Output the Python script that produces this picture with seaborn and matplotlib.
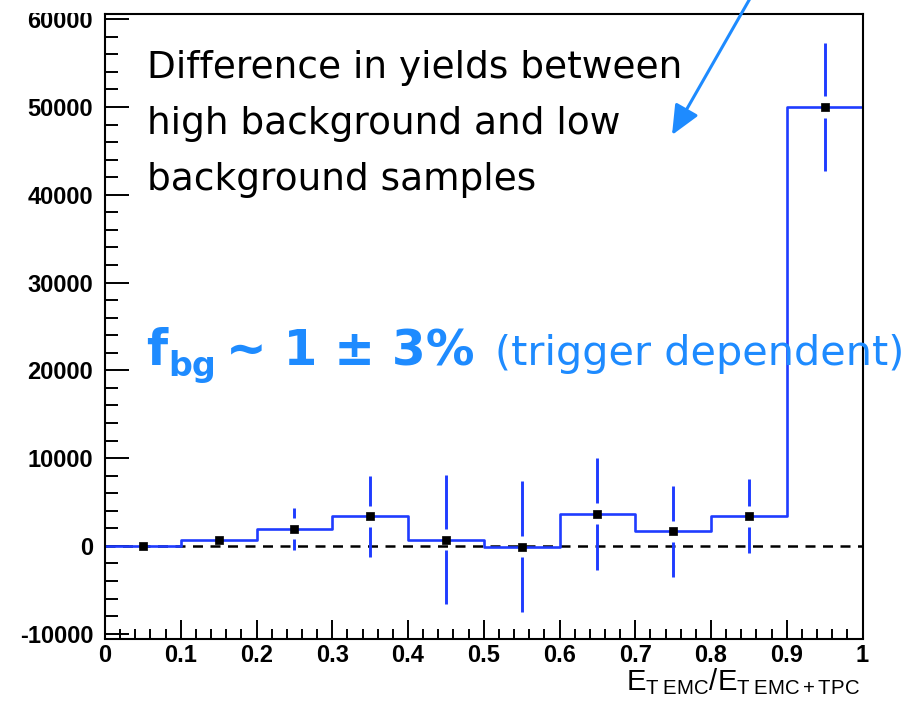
import numpy as np
import matplotlib
matplotlib.use("Agg")
import matplotlib.pyplot as plt
from matplotlib.patches import Rectangle
import seaborn as sns

# Yield difference (high-bg minus low-bg) per E_T fraction bin
bin_edges = [0.0, 0.1, 0.2, 0.3, 0.4, 0.5, 0.6, 0.7, 0.8, 0.9, 1.0]
bin_centers = [0.05, 0.15, 0.25, 0.35, 0.45, 0.55, 0.65, 0.75, 0.85, 0.95]
yield_diff = [0, 700, 1950, 3350, 700, -100, 3650, 1650, 3400, 50000]
yield_err = [600, 600, 2400, 4600, 7350, 7450, 6400, 5200, 4200, 7300]

x_ticks = [0.0, 0.1, 0.2, 0.3, 0.4, 0.5, 0.6, 0.7, 0.8, 0.9, 1.0]
x_tick_labels = ["0", "0.1", "0.2", "0.3", "0.4", "0.5", "0.6", "0.7", "0.8", "0.9", "1"]
y_ticks = [-10000, 0, 10000, 20000, 30000, 40000, 50000, 60000]
y_tick_labels = ["-10000", "0", "10000", "20000", "30000", "40000", "50000", "60000"]

note_lines = ["Difference in yields between", "high background and low", "background samples"]
fbg_main = "f"
fbg_sub = "bg"
fbg_value = "~ 1 ± 3%"
fbg_comment = "(trigger dependent)"
x_label = r"$\mathrm{E_{T\;EMC}/E_{T\;EMC+TPC}}$"

HIST_BLUE = "#1f3cff"
TEXT_BLUE = "#1e8bff"

sns.set_theme(style="ticks")
plt.rcParams.update({
    "font.family": ["DejaVu Sans"],
    "mathtext.fontset": "custom",
    "mathtext.rm": "Liberation Sans",
    "mathtext.it": "Liberation Sans",
    "mathtext.bf": "Liberation Sans:bold",
    "axes.linewidth": 1.5,
    "axes.edgecolor": "black",
    "text.color": "black",
    "xtick.color": "black",
    "ytick.color": "black",
})

W, H = 913, 705
fig = plt.figure(figsize=(W / 100, H / 100), dpi=100)
fig.patch.set_facecolor("white")
ax = fig.add_axes([105 / W, (H - 638.5) / H, (862.5 - 105) / W, 625 / H])
ax.set_facecolor("white")

# zero reference line
ax.axhline(0, color="black", lw=1.8, ls=(0, (4, 3)), zorder=1)

# histogram outline
sns.histplot(x=bin_centers, weights=yield_diff, bins=bin_edges, element="step",
             fill=False, color=HIST_BLUE, linewidth=1.9, ax=ax, zorder=2)

# error bars, drawn with a gap around each marker
gap = 1200
centers = np.array(bin_centers)
vals = np.array(yield_diff, dtype=float)
errs = np.array(yield_err, dtype=float)
show = errs > gap
ax.vlines(centers[show], vals[show] + gap, vals[show] + errs[show], color=HIST_BLUE, lw=2.1, zorder=3)
ax.vlines(centers[show], vals[show] - errs[show], vals[show] - gap, color=HIST_BLUE, lw=2.1, zorder=3)

sns.scatterplot(x=bin_centers, y=yield_diff, marker="s", s=40, color="black",
                edgecolor="black", linewidth=0.5, ax=ax, zorder=4)

ax.set_xlim(0, 1)
ax.set_ylim(-10550, 60650)
ax.set_xlabel("")
ax.set_ylabel("")

ax.set_xticks(x_ticks)
ax.set_xticklabels(x_tick_labels)
ax.set_yticks(y_ticks)
ax.set_yticklabels(y_tick_labels)
ax.set_xticks(np.arange(0, 1.0001, 0.02), minor=True)
ax.set_yticks(np.arange(-10000, 60001, 2000), minor=True)
ax.tick_params(axis="x", which="major", direction="in", length=13.5, width=1.4, pad=4,
               labelsize=17, top=False, color="black", labelcolor="black")
ax.tick_params(axis="x", which="minor", direction="in", length=7.5, width=1.4, top=False,
               color="black")
ax.tick_params(axis="y", which="major", direction="in", length=17, width=1.4, pad=8.5,
               labelsize=17, right=False, color="black", labelcolor="black")
ax.tick_params(axis="y", which="minor", direction="in", length=9.5, width=1.4, right=False,
               color="black")
for lab in ax.get_xticklabels() + ax.get_yticklabels():
    lab.set_fontfamily("Liberation Sans")
    lab.set_fontweight("bold")
for side in ["top", "right", "left", "bottom"]:
    ax.spines[side].set_visible(True)
    ax.spines[side].set_linewidth(1.5)
    ax.spines[side].set_color("black")

fig.text(860 / W, (H - 690) / H, x_label, ha="right", va="baseline", fontsize=21, color="black")

# white band above the frame
fig.patches.append(Rectangle((0, (H - 13) / H), 104 / W, 13 / H, transform=fig.transFigure,
                             facecolor="white", edgecolor="none", zorder=5))

# annotation text
for i, line in enumerate(note_lines):
    fig.text(147 / W, (H - (78 + 56 * i)) / H, line, ha="left", va="baseline",
             fontsize=27, color="black", family="DejaVu Sans", zorder=6)

fig.text(146 / W, (H - 365) / H, fbg_main, ha="left", va="baseline", fontsize=35,
         fontweight="bold", color=TEXT_BLUE, zorder=6)
fig.text(168 / W, (H - 376) / H, fbg_sub, ha="left", va="baseline", fontsize=24,
         fontweight="bold", color=TEXT_BLUE, zorder=6)
fig.text(226 / W, (H - 365) / H, fbg_value, ha="left", va="baseline", fontsize=35,
         fontweight="bold", color=TEXT_BLUE, zorder=6)
fig.text(495 / W, (H - 365) / H, fbg_comment, ha="left", va="baseline", fontsize=29.8,
         color=TEXT_BLUE, zorder=6)

# arrow pointing into the last bin region
ax.annotate("", xy=(672, H - 135), xycoords="figure pixels",
            xytext=(752, H + 5), textcoords="figure pixels",
            arrowprops=dict(arrowstyle="-|>,head_length=0.9,head_width=0.4",
                            color=TEXT_BLUE, lw=2.2, mutation_scale=20,
                            shrinkA=0, shrinkB=0),
            annotation_clip=False, zorder=7)

fig.savefig("out.png", dpi=100, facecolor="white")
